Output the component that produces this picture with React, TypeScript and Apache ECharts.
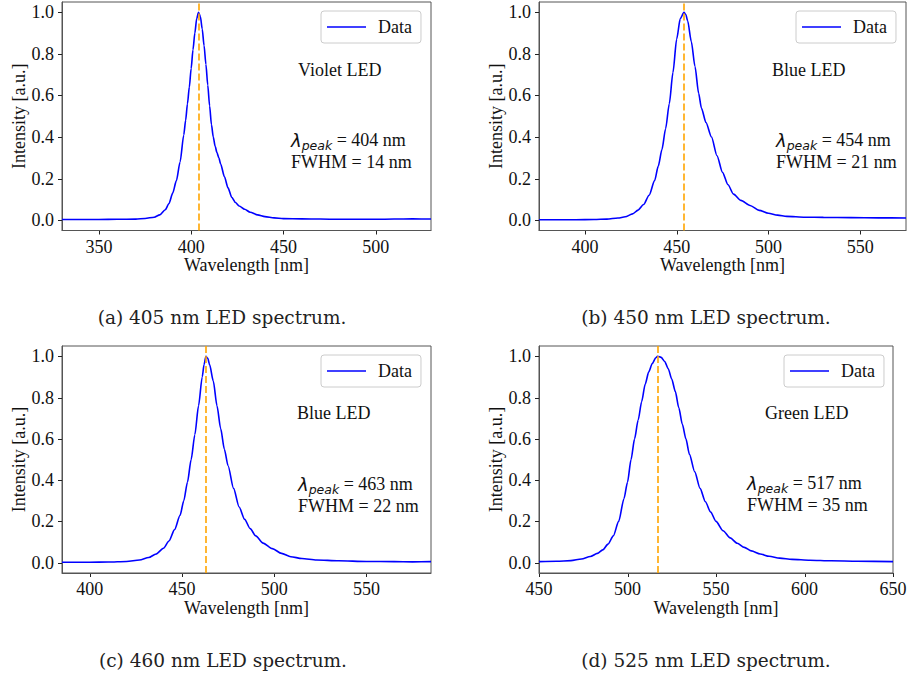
import React, { useEffect, useRef } from "react";
import * as echarts from "echarts";

// ---------- data ----------
const violetX = [330, 340, 350, 360, 370, 375, 380, 383, 386, 388, 390, 392, 394, 396, 397, 398, 399, 400, 401, 402, 403, 404, 405, 406, 407, 408, 409, 410, 411, 412, 413, 414, 415, 416, 418, 420, 422, 424, 426, 429, 432, 436, 440, 445, 450, 460, 470, 480, 490, 500, 510, 520, 530];
const violetY = [0.003, 0.003, 0.003, 0.004, 0.005, 0.008, 0.014, 0.025, 0.05, 0.08, 0.13, 0.19, 0.28, 0.41, 0.48, 0.56, 0.64, 0.73, 0.82, 0.9, 0.97, 1.0, 0.98, 0.92, 0.84, 0.75, 0.65, 0.55, 0.46, 0.4, 0.355, 0.325, 0.3, 0.27, 0.21, 0.155, 0.11, 0.085, 0.068, 0.052, 0.038, 0.025, 0.017, 0.011, 0.007, 0.006, 0.005, 0.004, 0.004, 0.004, 0.005, 0.006, 0.005];

const blue454X = [375, 385, 395, 405, 412, 418, 422, 426, 429, 432, 435, 438, 440, 442, 444, 446, 448, 450, 452, 454, 455, 456, 458, 460, 462, 463.5, 466, 469, 472, 475, 478, 481, 485, 490, 495, 500, 505, 510, 520, 530, 545, 560, 575];
const blue454Y = [0.002, 0.002, 0.002, 0.003, 0.005, 0.01, 0.016, 0.03, 0.048, 0.075, 0.12, 0.19, 0.26, 0.34, 0.44, 0.56, 0.71, 0.87, 0.97, 1.0, 0.99, 0.96, 0.86, 0.74, 0.61, 0.54, 0.47, 0.4, 0.31, 0.23, 0.17, 0.125, 0.095, 0.07, 0.047, 0.033, 0.024, 0.018, 0.014, 0.013, 0.012, 0.011, 0.01];

const blue463X = [385, 400, 410, 420, 427, 432, 436, 440, 443, 446, 449, 451, 453, 455, 457, 459, 461, 462, 463, 464, 465, 467, 469, 471, 473, 475, 478, 481, 484, 487, 490, 494, 499, 504, 509, 515, 523, 535, 550, 565, 575, 585];
const blue463Y = [0.002, 0.002, 0.003, 0.006, 0.013, 0.025, 0.042, 0.07, 0.105, 0.16, 0.23, 0.3, 0.39, 0.5, 0.62, 0.76, 0.9, 0.96, 1.0, 0.99, 0.96, 0.88, 0.76, 0.65, 0.55, 0.47, 0.36, 0.27, 0.21, 0.165, 0.13, 0.095, 0.068, 0.045, 0.029, 0.02, 0.013, 0.009, 0.006, 0.005, 0.004, 0.005];

const greenX = [450, 460, 468, 474, 479, 483, 486, 489, 492, 495, 498, 500, 502, 504, 506, 508, 510, 512, 514, 516, 517, 519, 521, 523, 525, 527, 529, 531, 533, 535, 538, 541, 544, 547, 550, 554, 558, 562, 566, 570, 575, 580, 586, 593, 603, 615, 630, 650];
const greenY = [0.005, 0.007, 0.01, 0.018, 0.03, 0.045, 0.062, 0.09, 0.13, 0.2, 0.31, 0.39, 0.5, 0.6, 0.69, 0.78, 0.865, 0.925, 0.965, 0.993, 1.0, 0.995, 0.975, 0.94, 0.89, 0.83, 0.75, 0.67, 0.6, 0.525, 0.44, 0.36, 0.295, 0.245, 0.2, 0.155, 0.12, 0.094, 0.074, 0.057, 0.042, 0.031, 0.022, 0.016, 0.012, 0.009, 0.007, 0.005];

const xRanges = [[330, 530], [375, 575], [385, 585], [450, 650]];
const yRange = [-0.05, 1.05];
const xTicksA = [350, 400, 450, 500];
const xTicksB = [400, 450, 500, 550];
const xTicksC = [400, 450, 500, 550];
const xTicksD = [450, 500, 550, 600, 650];
const yTicks = [0.0, 0.2, 0.4, 0.6, 0.8, 1.0];
const ledNames = ["Violet LED", "Blue LED", "Blue LED", "Green LED"];
const peaks = [404, 454, 463, 517];
const fwhms = [14, 21, 22, 35];
const captions = ["(a) 405 nm LED spectrum.", "(b) 450 nm LED spectrum.", "(c) 460 nm LED spectrum.", "(d) 525 nm LED spectrum."];

// ---------- layout ----------
const SERIF = "'Liberation Serif', 'Times New Roman', serif";
const CAP_FONT = "'DejaVu Serif', serif";
const FS = 18;
const TICK_LEN = 4;
const grids = [
  { left: 62, top: 2, width: 369, height: 228.5 },
  { left: 539, top: 2, width: 367, height: 228.5 },
  { left: 62, top: 346, width: 369, height: 227 },
  { left: 539, top: 346, width: 354, height: 227 },
];
const legendPos = [
  { left: 321, top: 11 },
  { left: 796, top: 11 },
  { left: 321, top: 355 },
  { left: 784, top: 355 },
];
const namePos = [
  { x: 298, y: 70 },
  { x: 772, y: 70 },
  { x: 297, y: 413 },
  { x: 765, y: 413 },
];
const annoPos = [
  { x: 291, y: 140 },
  { x: 776, y: 140 },
  { x: 298, y: 484 },
  { x: 747, y: 483 },
];
const capPos = [
  { x: 222, y: 317 },
  { x: 706, y: 317 },
  { x: 223, y: 660 },
  { x: 706, y: 660 },
];

const seriesData = [
  [violetX, violetY],
  [blue454X, blue454Y],
  [blue463X, blue463Y],
  [greenX, greenY],
];
const xTicks = [xTicksA, xTicksB, xTicksC, xTicksD];

const FRAME = "#555555";
const TICK = "#222222";
const TXT = "#111111";

function buildTexts() {
  const graphics: any[] = [];
  for (let i = 0; i < 4; i++) {
    graphics.push({
      type: "text",
      x: namePos[i].x,
      y: namePos[i].y,
      style: { text: ledNames[i], fill: TXT, fontSize: FS, fontFamily: SERIF, align: "left", verticalAlign: "middle" },
    });
    graphics.push({
      type: "text",
      x: annoPos[i].x,
      y: annoPos[i].y - 12,
      style: {
        text: `{l|λ}{s|peak}{t| = ${peaks[i]} nm}\n{f|FWHM = ${fwhms[i]} nm}`,
        align: "left",
        verticalAlign: "top",
        rich: {
          l: { fontFamily: "'DejaVu Sans', sans-serif", fontStyle: "italic", fontSize: 18, fill: TXT, lineHeight: 24, verticalAlign: "middle" },
          s: { fontFamily: "'DejaVu Sans', sans-serif", fontStyle: "italic", fontSize: 12.5, fill: TXT, lineHeight: 12, verticalAlign: "bottom" },
          t: { fontFamily: SERIF, fontSize: FS, fill: TXT, lineHeight: 24, verticalAlign: "middle" },
          f: { fontFamily: SERIF, fontSize: FS, fill: TXT, lineHeight: 20, verticalAlign: "middle" },
        },
      },
    });
    graphics.push({
      type: "text",
      x: capPos[i].x,
      y: capPos[i].y,
      style: { text: captions[i], fill: "#222222", fontSize: 18.5, fontFamily: CAP_FONT, align: "center", verticalAlign: "middle" },
    });
  }
  return graphics;
}

function buildOption() {
  const grid = grids.map((g) => ({ ...g, show: true, borderColor: FRAME, borderWidth: 1 }));
  const xAxis = grids.map((_, i) => ({
    type: "value",
    gridIndex: i,
    min: xRanges[i][0],
    max: xRanges[i][1],
    axisLine: { show: true, onZero: false, lineStyle: { color: FRAME, width: 1 } },
    axisTick: { show: false },
    axisLabel: { customValues: xTicks[i], margin: 7, color: TXT, fontSize: FS, fontFamily: SERIF },
    splitLine: { show: false },
    name: "Wavelength [nm]",
    nameLocation: "middle",
    nameGap: 25,
    nameTextStyle: { color: TXT, fontSize: FS, fontFamily: SERIF },
  }));
  const yAxis = grids.map((_, i) => ({
    type: "value",
    gridIndex: i,
    min: yRange[0],
    max: yRange[1],
    axisLine: { show: true, onZero: false, lineStyle: { color: FRAME, width: 1 } },
    axisTick: { show: false },
    axisLabel: { customValues: yTicks, margin: 8, color: TXT, fontSize: FS, fontFamily: SERIF, formatter: (v: number) => v.toFixed(1) },
    splitLine: { show: false },
    name: "Intensity [a.u.]",
    nameLocation: "middle",
    nameRotate: 90,
    nameGap: 33,
    nameTextStyle: { color: TXT, fontSize: FS, fontFamily: SERIF },
  }));
  const series = seriesData.map(([xs, ys], i) => ({
    type: "line",
    name: "Data",
    xAxisIndex: i,
    yAxisIndex: i,
    data: xs.map((x, k) => [x, ys[k]]),
    showSymbol: false,
    smooth: 0.25,
    smoothMonotone: "x",
    color: "#0000ff",
    lineStyle: { color: "#0000ff", width: 1.6 },
    itemStyle: { color: "#0000ff" },
    silent: true,
    markLine: {
      silent: true,
      symbol: ["none", "none"],
      label: { show: false },
      lineStyle: { color: "#ffa500", type: [7, 3], width: 1.6 },
      data: [{ xAxis: peaks[i] }],
    },
  }));
  const legend = legendPos.map((p) => ({
    ...p,
    orient: "horizontal",
    data: [{ name: "Data", icon: "rect" }],
    itemWidth: 39,
    itemHeight: 1.6,
    padding: [7, 9, 7, 6],
    borderColor: "#cccccc",
    borderWidth: 1,
    borderRadius: 3,
    backgroundColor: "#ffffff",
    selectedMode: false,
    textStyle: { color: TXT, fontSize: FS, fontFamily: SERIF, padding: [0, 0, 0, 7] },
  }));

  return {
    animation: false,
    backgroundColor: "#ffffff",
    grid,
    xAxis,
    yAxis,
    series,
    legend,
    graphic: { elements: buildTexts() },
  };
}

// tick marks placed through the chart's own axis scales
function buildTicks(chart: any) {
  const els: any[] = [];
  for (let i = 0; i < 4; i++) {
    for (const v of xTicks[i]) {
      const p = chart.convertToPixel({ gridIndex: i }, [v, yRange[0]]);
      if (!p) continue;
      const x = Math.round(p[0]) + 0.5;
      els.push({ type: "line", silent: true, shape: { x1: x, y1: p[1], x2: x, y2: p[1] + TICK_LEN }, style: { stroke: TICK, lineWidth: 1 } });
    }
    for (const v of yTicks) {
      const p = chart.convertToPixel({ gridIndex: i }, [xRanges[i][0], v]);
      if (!p) continue;
      const y = Math.round(p[1]) + 0.5;
      els.push({ type: "line", silent: true, shape: { x1: p[0] - TICK_LEN, y1: y, x2: p[0], y2: y }, style: { stroke: TICK, lineWidth: 1 } });
    }
  }
  return els;
}

export default function App() {
  const ref = useRef<HTMLDivElement>(null);
  useEffect(() => {
    if (!ref.current) return;
    const chart = echarts.init(ref.current, null, { renderer: "svg" });
    chart.setOption(buildOption() as any);
    try {
      const ticks = buildTicks(chart);
      chart.setOption({ graphic: { elements: [...buildTexts(), ...ticks] } } as any);
    } catch (e) {
      // keep chart without extra ticks
    }
    return () => chart.dispose();
  }, []);
  return <div ref={ref} style={{ position: "absolute", left: 0, top: 0, width: 910, height: 677, background: "#fff" }} />;
}
